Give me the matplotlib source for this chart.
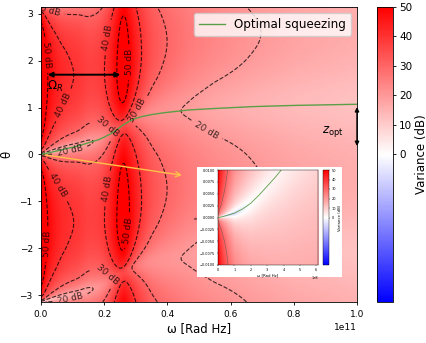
import numpy as np
import matplotlib
matplotlib.use("Agg")
import matplotlib.pyplot as plt

# ---- quadrature variance map: spectral features vs frequency (units of 1e11 rad/s)
omega_knots = np.array([0.0, 0.01, 0.03, 0.06, 0.09, 0.117, 0.15, 0.18, 0.20, 0.22, 0.24,
                        0.26, 0.28, 0.30, 0.32, 0.35, 0.39, 0.47, 0.55, 0.67, 0.80, 1.00])
var_max_db = np.array([62, 54, 47, 42.5, 40.5, 39.5, 37, 37.5, 39.5, 44, 50,
                       56, 50, 44, 39.5, 34, 30.5, 26, 23.5, 20.5, 18, 16])
var_min_db = np.array([2, 8, 12, 15, 17, 18, 19, 21, 23, 27, 33,
                       37, 32, 27, 24, 22, 21, 19.5, 17, 15, 13.5, 12])
theta_sq = np.array([0.0, 0.015, 0.045, 0.09, 0.14, 0.18, 0.25, 0.31, 0.37, 0.44, 0.53,
                     0.63, 0.71, 0.77, 0.81, 0.85, 0.89, 0.95, 0.98, 1.02, 1.045, 1.07])
theta_gap = np.array([1.57, 1.57, 1.57, 1.56, 1.54, 1.52, 1.49, 1.45, 1.40, 1.30, 1.20,
                      1.15, 1.20, 1.30, 1.38, 1.45, 1.50, 1.57, 1.57, 1.57, 1.57, 1.57])
omega_R = 0.26          # 1e11 rad/s
z_opt = (0.12, 1.07)    # rad

# ---- zoom near the origin (omega in 1e8 rad/s, theta in rad)
z_omega = np.array([0.0, 0.1, 0.3, 0.6, 1.0, 1.5, 2.0, 2.5, 3.0, 3.5, 4.0, 5.0, 6.1])
z_min_db = np.array([20, 5, -12, -15, -8, -3, 0, 1, 2, 2.5, 3, 3.5, 4])
z_edge_db = np.array([55, 45, 38, 30, 22, 18, 15, 13.5, 12, 11, 10, 9, 8])
z_theta = np.array([0.0, 0.00005, 0.0002, 0.0005, 0.0009, 0.0018, 0.003, 0.0047, 0.0066,
                    0.0085, 0.0106, 0.0152, 0.021])

CMAP, VMIN, VMAX = "bwr", -50, 50
GREEN = "#5a9e48"


def smooth(y, n=21):
    pad = np.pad(y, n // 2, mode="edge")
    return np.convolve(pad, np.ones(n) / n, mode="valid")


def variance_map(w, th):
    lo = 10 ** (smooth(np.interp(w, omega_knots, var_min_db)) / 10)
    hi = 10 ** (smooth(np.interp(w, omega_knots, var_max_db)) / 10)
    t0 = smooth(np.interp(w, omega_knots, theta_sq))
    gap = smooth(np.interp(w, omega_knots, theta_gap))
    d = np.mod(th[:, None] - t0[None, :], np.pi)
    g = gap[None, :]
    u = np.where(d < g, d * (np.pi / 2) / g, np.pi / 2 + (d - g) * (np.pi / 2) / (np.pi - g))
    v = lo[None, :] + (hi - lo)[None, :] * np.sin(u) ** 2
    return 10 * np.log10(v)


def zoom_map(w, th):
    lo = 10 ** (np.interp(w, z_omega, z_min_db) / 10)
    edge = 10 ** (np.interp(w, z_omega, z_edge_db) / 10)
    t0 = np.interp(w, z_omega, z_theta)
    d = (th[:, None] - t0[None, :]) / 0.01
    v = lo[None, :] + (edge - lo)[None, :] * d ** 2
    return 10 * np.log10(v)


w = np.linspace(0, 1.0, 900)
th = np.linspace(-np.pi, np.pi, 700)
Z = variance_map(w, th)

fig = plt.figure(figsize=(4.27, 3.43), dpi=100)
ax = fig.add_axes([41 / 427, 41 / 343, 316 / 427, 295 / 343])
im = ax.imshow(Z, extent=[0, 1e11, -np.pi, np.pi], origin="lower", aspect="auto",
               cmap=CMAP, vmin=VMIN, vmax=VMAX, interpolation="bilinear")
W, T = np.meshgrid(w * 1e11, th)
cs = ax.contour(W, T, Z, levels=[20, 30, 40, 50], colors="k", linestyles="--",
                linewidths=0.8, alpha=0.75)
ax.clabel(cs, fmt="%d dB", fontsize=6.5, inline=True)
ax.plot(omega_knots * 1e11, theta_sq, color=GREEN, lw=1.0, label="Optimal squeezing")
ax.set_xlim(0, 1e11)
ax.set_ylim(-np.pi, np.pi)
ax.set_xlabel("ω [Rad Hz]", fontsize=8.5, labelpad=2)
ax.set_ylabel("θ", fontsize=8.5)
ax.tick_params(labelsize=6.5, length=2.5, width=0.6)
ax.xaxis.get_offset_text().set_fontsize(6.5)
for s in ax.spines.values():
    s.set_linewidth(0.6)
ax.legend(loc="upper right", fontsize=8.6, framealpha=0.8, borderpad=0.4,
          handlelength=2.2, fancybox=True)

# annotations
ax.annotate("", xy=(omega_R * 1e11, 1.7), xytext=(0.012e11, 1.7),
            arrowprops=dict(arrowstyle="<|-|>", color="k", lw=1.4, mutation_scale=7))
ax.text(0.02e11, 1.45, r"$\Omega_R$", fontsize=8.5, va="center")
ax.annotate("", xy=(1e11, z_opt[1]), xytext=(1e11, z_opt[0]), annotation_clip=False,
            arrowprops=dict(arrowstyle="<|-|>", color="k", lw=1.0, mutation_scale=6))
ax.text(0.89e11, 0.5, r"$z_{\mathrm{opt}}$", fontsize=8.5, va="center")
ax.annotate("", xy=(0.455e11, -0.45), xytext=(0.005e11, 0.0),
            arrowprops=dict(arrowstyle="->", color="#ffc04a", lw=1.0, mutation_scale=9))

cax = fig.add_axes([377 / 427, 41 / 343, 16 / 427, 295 / 343])
cb = fig.colorbar(im, cax=cax, ticks=[0, 10, 20, 30, 40, 50])
cb.outline.set_linewidth(0.6)
cax.tick_params(labelsize=7.5, length=2.5, width=0.6, pad=2)
cax.set_ylabel("Variance (dB)", fontsize=8.5, labelpad=2)

# ---- zoomed view pasted in the lower right
box = fig.add_axes([197 / 427, 66 / 343, 145 / 427, 110 / 343], zorder=3)
box.set_xticks([])
box.set_yticks([])
for s in box.spines.values():
    s.set_visible(False)

zw = np.linspace(0, 6.1, 300)
zth = np.linspace(-0.01, 0.01, 300)
ZZ = zoom_map(zw, zth)
ins = fig.add_axes([218 / 427, 78 / 343, 100 / 427, 95 / 343], zorder=4)
zim = ins.imshow(ZZ, extent=[0, 6.1e8, -0.01, 0.01], origin="lower", aspect="auto",
                 cmap=CMAP, vmin=VMIN, vmax=VMAX, interpolation="bilinear")
ZW, ZT = np.meshgrid(zw * 1e8, zth)
ins.contour(ZW, ZT, ZZ, levels=[30], colors="#555555", linewidths=0.5, alpha=0.6)
ins.plot(z_omega * 1e8, z_theta, color=GREEN, lw=0.6)
ins.set_xlim(0, 6.1e8)
ins.set_ylim(-0.01, 0.01)
ins.set_yticks(np.arange(-0.01, 0.0101, 0.0025))
ins.tick_params(labelsize=2.5, length=1, width=0.3, pad=1)
ins.xaxis.get_offset_text().set_fontsize(2.5)
ins.set_xlabel("ω [Rad Hz]", fontsize=2.8, labelpad=1)
ins.set_ylabel("θ", fontsize=2.8, labelpad=1)
for s in ins.spines.values():
    s.set_linewidth(0.3)
zcax = fig.add_axes([323 / 427, 78 / 343, 6 / 427, 95 / 343], zorder=4)
zcb = fig.colorbar(zim, cax=zcax, ticks=[0, 10, 20, 30, 40, 50])
zcb.outline.set_linewidth(0.3)
zcax.tick_params(labelsize=2.5, length=1, width=0.3, pad=1)
zcax.set_ylabel("Variance (dB)", fontsize=2.8, labelpad=1)

fig.savefig("out.png", dpi=100)
